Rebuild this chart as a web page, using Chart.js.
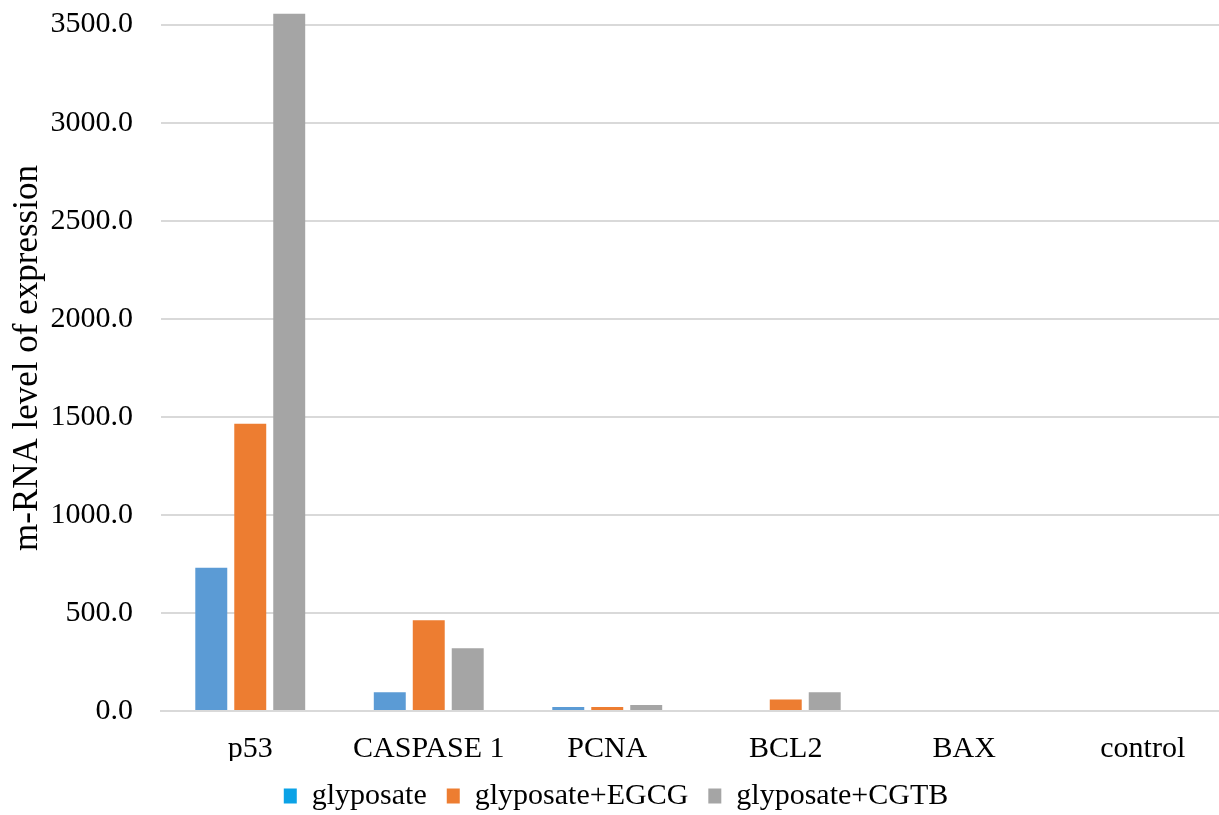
<!DOCTYPE html>
<html>
<head>
<meta charset="utf-8">
<script src="https://cdn.jsdelivr.net/npm/chart.js@4.4.1/dist/chart.umd.min.js"></script>
<style>
  html, body { margin: 0; padding: 0; background: #ffffff; overflow: hidden; }
  #wrap { width: 1232px; height: 821px; position: relative; }
</style>
</head>
<body>
<div id="wrap"><canvas id="c"></canvas></div>
<script>
const categories = ["p53", "CASPASE 1", "PCNA", "BCL2", "BAX", "control"];
const glyposate = [730, 95, 21, 0, 0, 0];
const glyposateEGCG = [1465, 463, 20, 59, 0, 0];
const glyposateCGTB = [3555, 320, 30, 95, 0, 0];
const seriesNames = ["glyposate", "glyposate+EGCG", "glyposate+CGTB"];
const yTicks = [0, 500, 1000, 1500, 2000, 2500, 3000, 3500];

const barColors = ["#5B9BD5", "#ED7D31", "#A5A5A5"];
const legendColors = ["#0BA2E6", "#ED7D31", "#A5A5A5"];
const serif = "'Liberation Serif', 'Times New Roman', serif";

new Chart(document.getElementById('c'), {
  type: 'bar',
  data: {
    labels: categories,
    datasets: [
      { label: seriesNames[0], data: glyposate, backgroundColor: barColors[0] },
      { label: seriesNames[1], data: glyposateEGCG, backgroundColor: barColors[1] },
      { label: seriesNames[2], data: glyposateCGTB, backgroundColor: barColors[2] }
    ]
  },
  options: {
    responsive: true,
    maintainAspectRatio: false,
    animation: false,
    layout: { padding: { top: 5, left: 0, right: 0, bottom: 0 } },
    datasets: { bar: { categoryPercentage: 0.655, barPercentage: 0.82 } },
    plugins: {
      tooltip: { enabled: false },
      legend: {
        position: 'bottom',
        labels: {
          font: { family: serif, size: 30 },
          color: '#000000',
          boxWidth: 13,
          boxHeight: 15,
          padding: 20,
          generateLabels: (chart) => seriesNames.map((n, i) => ({
            text: n, fillStyle: legendColors[i], strokeStyle: legendColors[i],
            lineWidth: 0, hidden: false, datasetIndex: i, fontColor: '#000000'
          }))
        }
      }
    },
    scales: {
      x: {
        grid: { display: false, drawTicks: false },
        border: { display: true, color: '#D9D9D9', width: 2 },
        ticks: { font: { family: serif, size: 30 }, color: '#000000', padding: 20, maxRotation: 0 },
        afterFit: (s) => { s.height = 50; }
      },
      y: {
        min: 0,
        max: 3600,
        afterBuildTicks: (s) => { s.ticks = yTicks.map(v => ({ value: v })); },
        grid: { color: '#D9D9D9', lineWidth: 2, drawTicks: false },
        border: { display: false },
        ticks: {
          font: { family: serif, size: 30 }, color: '#000000', padding: 28,
          callback: (v) => Number(v).toFixed(1)
        },
        title: {
          display: true,
          text: 'm-RNA level of expression',
          font: { family: serif, size: 35 },
          color: '#000000',
          padding: { top: 7, bottom: 0 }
        },
        afterFit: (s) => { s.width = 161; s.paddingTop = 0; s.paddingBottom = 0; }
      }
    }
  }
});
</script>
</body>
</html>
